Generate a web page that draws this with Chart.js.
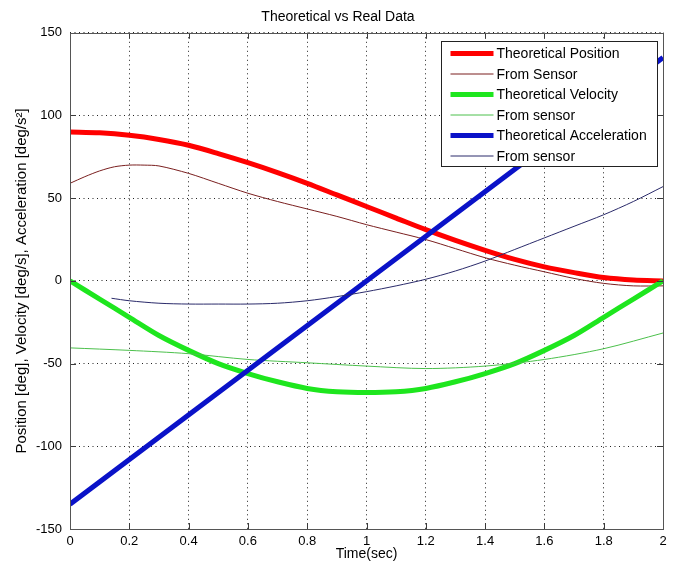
<!DOCTYPE html>
<html>
<head>
<meta charset="utf-8">
<script src="https://cdn.jsdelivr.net/npm/chart.js@4.4.1/dist/chart.umd.min.js"></script>
<style>
    html, body { margin: 0; padding: 0; background: #fff; }
    #wrap { width: 681px; height: 576px; }
</style>
</head>
<body>
<div id="wrap"><canvas id="plot"></canvas></div>
<script>
// values
const timeTheory = [0, 0.1, 0.2, 0.3, 0.4, 0.5, 0.6, 0.7, 0.8, 0.9, 1.0, 1.1, 1.2, 1.3, 1.4, 1.5, 1.6, 1.7, 1.8, 1.9, 2.0];
const posTheory = [90, 89.5, 88, 85.5, 82, 77, 71.5, 65.5, 59, 52, 45, 38, 31, 24.5, 18.5, 13, 8.5, 5, 2, 0.5, 0];
const velTheory = [0, -11, -22, -33, -42, -50, -56, -61, -65, -67, -67.5, -67, -65, -61, -56, -50, -42, -33, -22, -11, 0];
const timeAccTheory = [0, 2];
const accTheory = [-135, 135];

const timePosSensor = [0, 0.05, 0.1, 0.15, 0.2, 0.25, 0.3, 0.4, 0.5, 0.6, 0.7, 0.8, 0.9, 1.0, 1.1, 1.2, 1.3, 1.4, 1.5, 1.6, 1.7, 1.8, 1.9, 2.0];
const posSensor = [59, 63, 66.5, 69, 70, 70, 69.5, 65, 59, 53, 48, 43.5, 39, 34, 29.5, 25, 19.5, 14, 9.5, 5.5, 1.5, -1.5, -3, -3];

const timeVelSensor = [0, 0.2, 0.4, 0.6, 0.8, 1.0, 1.2, 1.4, 1.6, 1.8, 2.0];
const velSensor = [-40.5, -42, -44, -47.5, -49.5, -51.5, -53, -51.5, -47.5, -41, -31.5];

const timeAccSensor = [0.14, 0.2, 0.3, 0.4, 0.5, 0.6, 0.7, 0.8, 0.9, 1.0, 1.1, 1.2, 1.3, 1.4, 1.5, 1.6, 1.7, 1.8, 1.9, 2.0];
const accSensor = [-10.5, -12, -13.5, -14, -14, -14, -13.5, -12, -9.5, -6.5, -3, 1, 6, 12, 19, 26, 33, 40, 48, 57];

const seriesNames = ['Theoretical Position', 'From Sensor', 'Theoretical Velocity', 'From sensor', 'Theoretical Acceleration', 'From sensor'];
const xTicks = [0, 0.2, 0.4, 0.6, 0.8, 1, 1.2, 1.4, 1.6, 1.8, 2];
const yTicks = [-150, -100, -50, 0, 50, 100, 150];

const FONT = "'Liberation Sans', Arial, sans-serif";

function toPoints(xs, ys) {
    return xs.map((x, i) => ({ x: x, y: ys[i] }));
}

function lineSet(label, xs, ys, color, width, order) {
    return {
        label: label,
        data: toPoints(xs, ys),
        borderColor: color,
        backgroundColor: color,
        borderWidth: width,
        pointRadius: 0,
        tension: 0.3,
        fill: false,
        order: order
    };
}

// frame, inner tick marks and the legend box drawn inside the axes
const matlabFrame = {
    id: 'matlabFrame',
    afterDatasetsDraw(chart) {
        const ctx = chart.ctx;
        const a = chart.chartArea;
        const xs = chart.scales.x;
        const ys = chart.scales.y;
        ctx.save();
        ctx.strokeStyle = '#3a3a3a';
        ctx.lineWidth = 1;
        ctx.beginPath();
        xTicks.forEach(t => {
            const px = Math.round(xs.getPixelForValue(t)) + 0.5;
            ctx.moveTo(px, a.bottom); ctx.lineTo(px, a.bottom - 6);
            ctx.moveTo(px, a.top); ctx.lineTo(px, a.top + 6);
        });
        yTicks.forEach(t => {
            const py = Math.round(ys.getPixelForValue(t)) + 0.5;
            ctx.moveTo(a.left, py); ctx.lineTo(a.left + 6, py);
            ctx.moveTo(a.right, py); ctx.lineTo(a.right - 6, py);
        });
        ctx.stroke();
        ctx.strokeStyle = '#555';
        ctx.strokeRect(Math.round(a.left) + 0.5, Math.round(a.top) + 0.5,
            Math.round(a.right - a.left), Math.round(a.bottom - a.top));

        // legend
        const boxW = 216, boxH = 125;
        const bx = Math.round(a.right) - 6 - boxW + 0.5;
        const by = Math.round(a.top) + 8 + 0.5;
        ctx.fillStyle = '#fff';
        ctx.fillRect(bx, by, boxW, boxH);
        ctx.strokeStyle = '#222';
        ctx.strokeRect(bx, by, boxW, boxH);
        ctx.font = '14px ' + FONT;
        ctx.textBaseline = 'middle';
        ctx.fillStyle = '#000';
        chart.data.datasets.forEach((ds, i) => {
            const ly = by + 12 + i * 20.5;
            ctx.strokeStyle = ds.borderColor;
            ctx.lineWidth = ds.borderWidth;
            ctx.beginPath();
            ctx.moveTo(bx + 9, ly);
            ctx.lineTo(bx + 52, ly);
            ctx.stroke();
            ctx.fillText(seriesNames[i], bx + 55, ly + 1);
        });
        ctx.restore();
    }
};

const ctx = document.getElementById('plot').getContext('2d');
const chart = new Chart(ctx, {
    type: 'line',
    data: {
        datasets: [
            lineSet(seriesNames[0], timeTheory, posTheory, '#ff0000', 5, 6),
            lineSet(seriesNames[1], timePosSensor, posSensor, '#7a1f1f', 1, 5),
            lineSet(seriesNames[2], timeTheory, velTheory, '#1ee61e', 5, 4),
            lineSet(seriesNames[3], timeVelSensor, velSensor, '#4cc04c', 1, 3),
            lineSet(seriesNames[4], timeAccTheory, accTheory, '#0a12c8', 5, 2),
            lineSet(seriesNames[5], timeAccSensor, accSensor, '#2a2a6a', 1, 1)
        ]
    },
    options: {
        responsive: true,
        maintainAspectRatio: false,
        animation: false,
        layout: { padding: { right: 18, left: 13, top: 0, bottom: 13 } },
        plugins: {
            legend: { display: false },
            tooltip: { enabled: false },
            title: {
                display: true,
                text: 'Theoretical vs Real Data',
                color: '#000',
                font: { family: FONT, size: 14, weight: 'normal' },
                padding: { top: 9, bottom: 7 }
            }
        },
        scales: {
            x: {
                type: 'linear',
                min: 0,
                max: 2,
                afterBuildTicks(scale) {
                    scale.ticks = xTicks.map(v => ({ value: v }));
                },
                afterFit(scale) { scale.height = 34; },
                ticks: {
                    color: '#000',
                    font: { family: FONT, size: 13 },
                    padding: 5,
                    maxRotation: 0,
                    autoSkip: false,
                    callback: v => String(Number(v.toFixed(1)))
                },
                grid: {
                    color: '#222',
                    drawTicks: false
                },
                border: { display: false, dash: [1, 3.5] },
                title: {
                    display: true,
                    text: 'Time(sec)',
                    color: '#000',
                    font: { family: FONT, size: 14 },
                    padding: { top: 0, bottom: 0 }
                }
            },
            y: {
                type: 'linear',
                min: -150,
                max: 150,
                afterBuildTicks(scale) {
                    scale.ticks = yTicks.map(v => ({ value: v }));
                },
                afterFit(scale) { scale.width = 57; },
                ticks: {
                    color: '#000',
                    font: { family: FONT, size: 13 },
                    padding: 8,
                    autoSkip: false
                },
                grid: {
                    color: '#222',
                    drawTicks: false
                },
                border: { display: false, dash: [1, 3.5] },
                title: {
                    display: true,
                    text: 'Position [deg], Velocity [deg/s], Acceleration [deg/s\u00B2]',
                    color: '#000',
                    font: { family: FONT, size: 15 },
                    padding: { top: 0, bottom: 0 }
                }
            }
        }
    },
    plugins: [matlabFrame]
});
</script>
</body>
</html>
